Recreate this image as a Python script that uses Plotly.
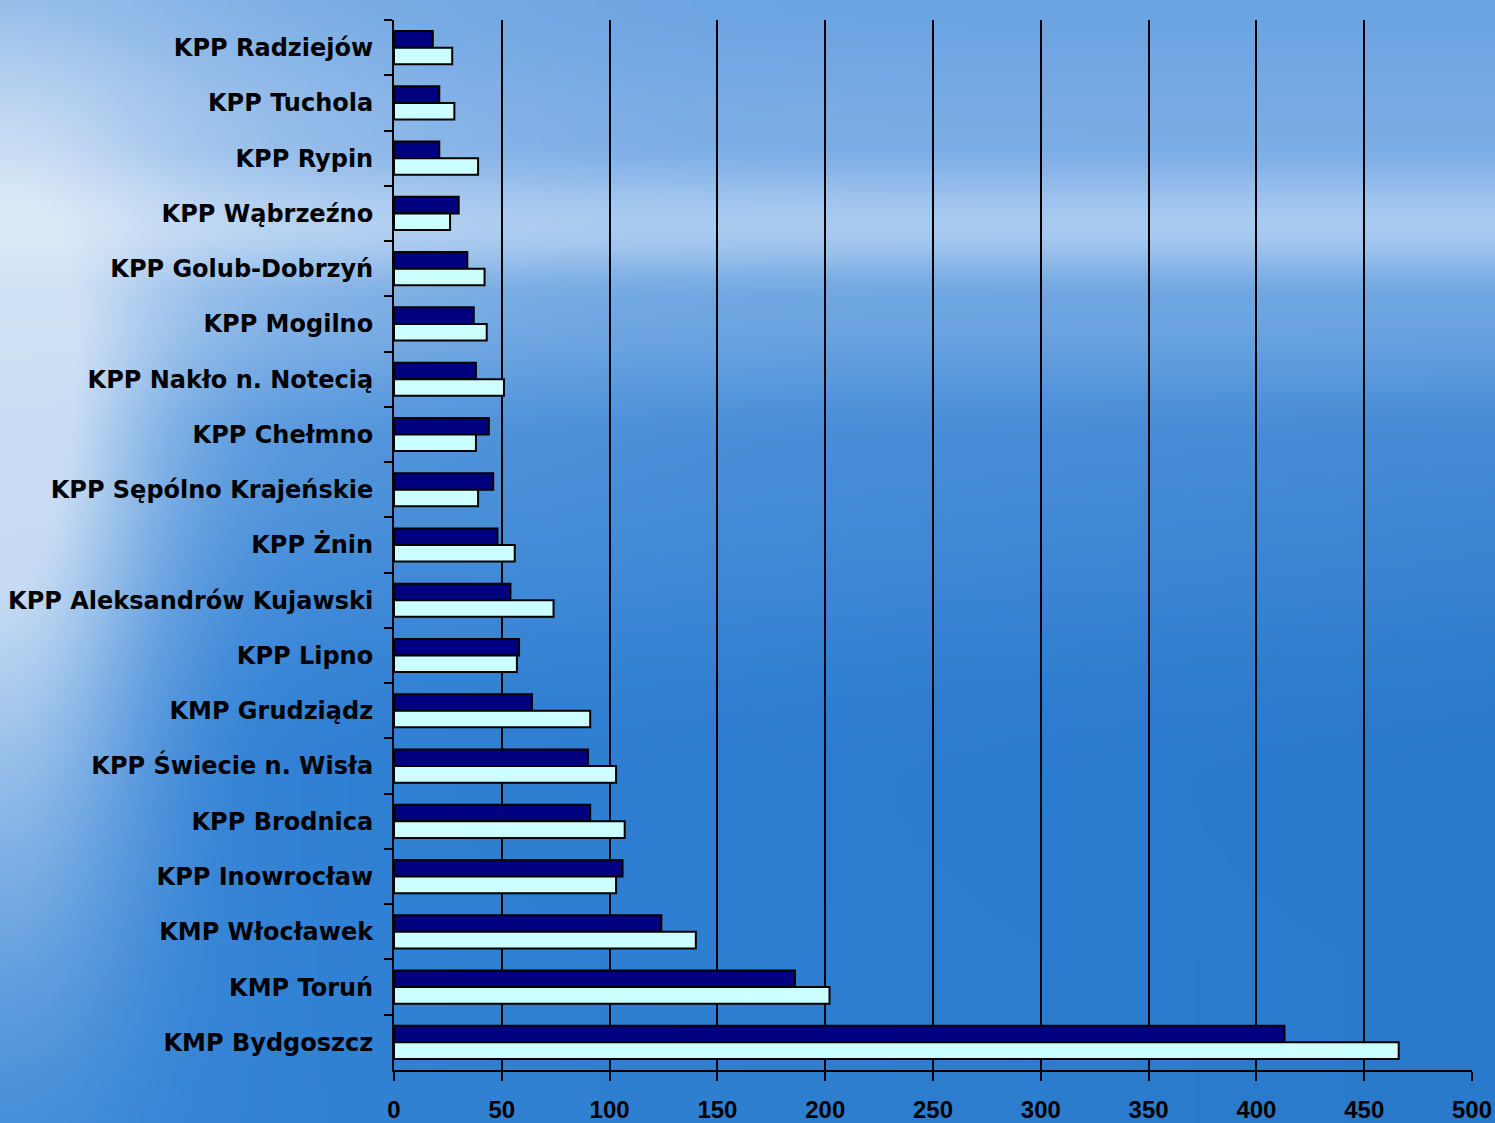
import base64, struct, zlib
import numpy as np
import plotly.graph_objects as go

# ---- data (top to bottom as displayed) ----
categories = [
    "KPP Radziejów", "KPP Tuchola", "KPP Rypin", "KPP Wąbrzeźno",
    "KPP Golub-Dobrzyń", "KPP Mogilno", "KPP Nakło n. Notecią", "KPP Chełmno",
    "KPP Sępólno Krajeńskie", "KPP Żnin", "KPP Aleksandrów Kujawski",
    "KPP Lipno", "KMP Grudziądz", "KPP Świecie n. Wisła", "KPP Brodnica",
    "KPP Inowrocław", "KMP Włocławek", "KMP Toruń", "KMP Bydgoszcz",
]
series_dark = [18, 21, 21, 30, 34, 37, 38, 44, 46, 48, 54, 58, 64, 90, 91, 106, 124, 186, 413]
series_light = [27, 28, 39, 26, 42, 43, 51, 38, 39, 56, 74, 57, 91, 103, 107, 103, 140, 202, 466]
x_ticks = [0, 50, 100, 150, 200, 250, 300, 350, 400, 450, 500]

# ---- background picture (sky / sea gradient) ----
W, H = 300, 225
yy = np.linspace(0, 1, H)[:, None]
xx = np.linspace(0, 1, W)[None, :]

def smooth(t):
    t = np.clip(t, 0, 1)
    return t * t * (3 - 2 * t)

stops_y = [0.0, 0.12, 0.20, 0.27, 0.40, 0.70, 1.0]
stops_c = [np.array(c, float) for c in [
    (108, 164, 226), (122, 172, 230), (168, 202, 240), (110, 166, 226),
    (76, 146, 220), (50, 130, 214), (52, 132, 214)]]
img = np.zeros((H, W, 3))
for c in range(3):
    v = np.full((H, 1), stops_c[0][c])
    for i in range(1, len(stops_y)):
        t = smooth((yy - stops_y[i - 1]) / (stops_y[i] - stops_y[i - 1]))
        v = np.where(yy >= stops_y[i - 1], stops_c[i - 1][c] + (stops_c[i][c] - stops_c[i - 1][c]) * t, v)
    v = np.broadcast_to(v, (H, W)).copy()
    v = v - 10 * xx * smooth((yy - 0.25) / 0.2)
    img[:, :, c] = v
# left glow (sun reflection) and lighter upper-left sky
glow = np.exp(-((xx / 0.10) ** 2)) * np.exp(-(((yy - 0.40) / 0.28) ** 2))
glow2 = 0.5 * np.exp(-((xx / 0.28) ** 2)) * np.exp(-(((yy - 0.15) / 0.22) ** 2))
glow3 = 0.35 * np.exp(-((xx / 0.10) ** 2)) * np.exp(-(((yy - 0.75) / 0.25) ** 2))
g = np.clip(glow + glow2 + glow3, 0, 1)[:, :, None]
img = img * (1 - 0.8 * g) + np.array([232, 240, 250.0]) * 0.8 * g
img = np.clip(img, 0, 255).astype(np.uint8)

def png_bytes(a):
    h, w, _ = a.shape
    raw = b"".join(b"\x00" + a[r].tobytes() for r in range(h))
    def chunk(t, d):
        return struct.pack(">I", len(d)) + t + d + struct.pack(">I", zlib.crc32(t + d) & 0xffffffff)
    return (b"\x89PNG\r\n\x1a\n" + chunk(b"IHDR", struct.pack(">IIBBBBB", w, h, 8, 2, 0, 0, 0))
            + chunk(b"IDAT", zlib.compress(raw, 9)) + chunk(b"IEND", b""))

bg_uri = "data:image/png;base64," + base64.b64encode(png_bytes(img)).decode()

# ---- figure ----
FW, FH = 1495, 1123
L, R, T, B = 394, 23, 20, 53
PW, PH = FW - L - R, FH - T - B

fig = go.Figure()
fig.add_trace(go.Bar(y=categories, x=series_dark, orientation="h", name="dark",
                     marker=dict(color="#000080", line=dict(color="black", width=2))))
fig.add_trace(go.Bar(y=categories, x=series_light, orientation="h", name="light",
                     marker=dict(color="#ccffff", line=dict(color="black", width=2))))

fig.update_layout(
    width=FW, height=FH, autosize=False,
    margin=dict(l=L, r=R, t=T, b=B, autoexpand=False),
    barmode="group", bargap=0.4, bargroupgap=0,
    showlegend=False,
    paper_bgcolor="#4a90dc", plot_bgcolor="rgba(0,0,0,0)",
    images=[dict(source=bg_uri, xref="paper", yref="paper",
                 x=-L / PW, y=1 + T / PH, sizex=FW / PW, sizey=FH / PH,
                 xanchor="left", yanchor="top", sizing="stretch", layer="below")],
    xaxis=dict(range=[0, 500], tickvals=x_ticks, ticktext=[str(v) for v in x_ticks],
               automargin=False,
               showgrid=True, gridcolor="black", gridwidth=2, zeroline=False,
               showline=True, linecolor="black", linewidth=2,
               ticks="outside", ticklen=9, tickwidth=2, tickcolor="black",
               tickfont=dict(family="Liberation Sans, Arial, sans-serif", size=24,
                             color="black", weight="bold"),
               ticklabelstandoff=8),
    yaxis=dict(categoryorder="array", categoryarray=categories, autorange="reversed",
               automargin=False,
               showline=True, linecolor="black", linewidth=2, showgrid=False,
               ticks="outside", ticklen=8, tickwidth=2, tickcolor="black",
               tickson="boundaries",
               tickfont=dict(family="DejaVu Sans, sans-serif", size=24,
                             color="black", weight="bold"),
               ticklabelstandoff=14),
)

fig.write_html("out.html", config={"displayModeBar": False, "responsive": False},
               post_script="document.body.style.margin='0';document.body.style.overflow='hidden';")
